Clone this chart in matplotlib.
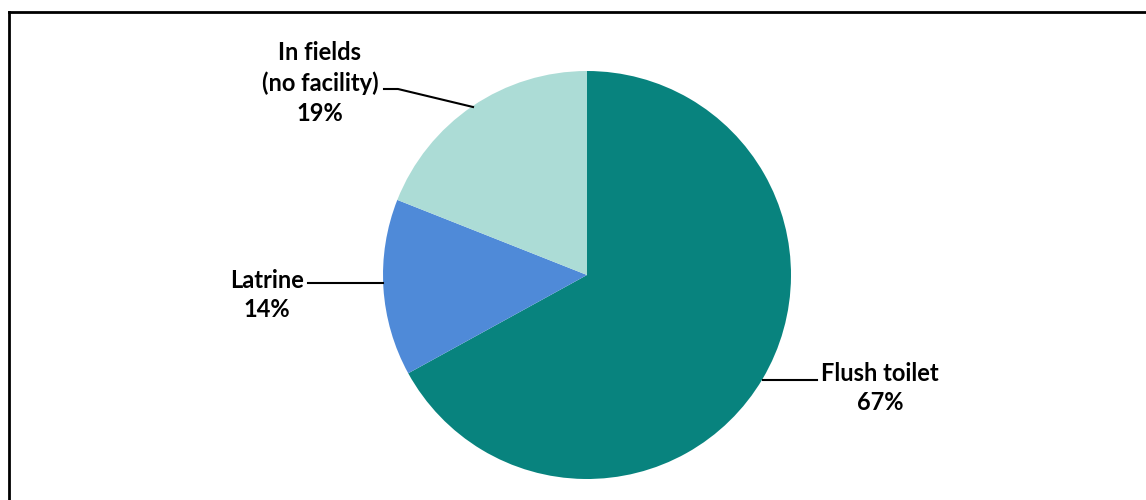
import matplotlib.pyplot as plt

# sanitation facility shares (%)
labels = ["Flush toilet", "Latrine", "In fields\n(no facility)"]
shares = [67, 14, 19]
colors = ["#08837e", "#4f8ad8", "#acdcd6"]

W, H = 1146, 500
fig = plt.figure(figsize=(W / 100, H / 100), dpi=100)
ax = fig.add_axes([0, 0, 1, 1])
ax.set_xlim(0, W)
ax.set_ylim(0, H)
ax.axis("off")

def py(y):
    # pixel row from the top -> data y
    return H - y

ax.pie(shares, colors=colors, startangle=90, counterclock=False,
       center=(587, py(275)), radius=204, frame=True,
       wedgeprops=dict(linewidth=0))
ax.set_xlim(0, W)
ax.set_ylim(0, H)
ax.set_aspect("equal")
ax.axis("off")

font = dict(family=["Lato", "DejaVu Sans"], fontsize=17, fontweight="bold",
            color="black", ha="center", va="center", linespacing=1.35)

# labels with leader lines
ax.text(880, py(388), f"{labels[0]}\n{shares[0]}%", **font)
ax.plot([763, 817], [py(380), py(380)], color="black", lw=1.5)

ax.text(267, py(295), f"{labels[1]}\n{shares[1]}%", **font)
ax.plot([308, 383], [py(283), py(283)], color="black", lw=1.5)

ax.text(320, py(83), f"{labels[2]}\n{shares[2]}%", **font)
ax.plot([384, 398, 473], [py(89), py(89), py(107)], color="black", lw=1.5)

# frame (only top and left edges visible)
ax.plot([9, W], [py(12), py(12)], color="black", lw=2, clip_on=False)
ax.plot([9, 9], [py(12), 0], color="black", lw=2, clip_on=False)

fig.savefig("out.png", dpi=100)
